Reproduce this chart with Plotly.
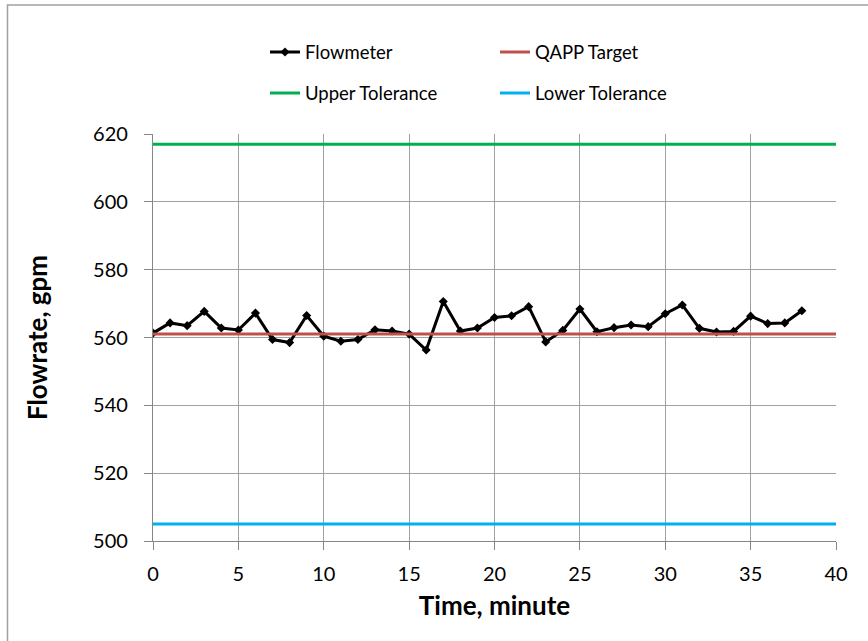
import plotly.graph_objects as go

time_min = list(range(0, 39))
flowmeter = [561.3, 564.3, 563.5, 567.7, 562.8, 562.2, 567.2, 559.4, 558.5, 566.5,
             560.4, 558.9, 559.4, 562.3, 561.9, 561.0, 556.3, 570.6, 561.9, 562.8,
             565.9, 566.4, 569.1, 558.7, 562.1, 568.4, 561.7, 562.9, 563.7, 563.2,
             567.0, 569.6, 562.7, 561.6, 561.8, 566.3, 564.1, 564.3, 567.9]
limit_x = [0, 40]
qapp_target = [561, 561]
upper_tol = [617, 617]
lower_tol = [505, 505]

x_ticks = [0, 5, 10, 15, 20, 25, 30, 35, 40]
y_ticks = [500, 520, 540, 560, 580, 600, 620]

FONT = "Lato, 'Open Sans', sans-serif"

fig = go.Figure()
fig.add_trace(go.Scatter(x=time_min, y=flowmeter, name="Flowmeter", mode="lines+markers",
                         line=dict(color="black", width=3),
                         marker=dict(symbol="diamond", size=7, color="black"),
                         legend="legend", legendgroup="a"))
fig.add_trace(go.Scatter(x=limit_x, y=qapp_target, name="QAPP Target", mode="lines",
                         line=dict(color="#c0504d", width=3),
                         legend="legend2", legendgroup="b"))
fig.add_trace(go.Scatter(x=limit_x, y=upper_tol, name="Upper Tolerance", mode="lines",
                         line=dict(color="#00b050", width=3),
                         legend="legend", legendgroup="c"))
fig.add_trace(go.Scatter(x=limit_x, y=lower_tol, name="Lower Tolerance", mode="lines",
                         line=dict(color="#00b0f0", width=3),
                         legend="legend2", legendgroup="d"))

L, R, T, B = 153, 32, 134, 100
W, H = 868, 641
pw, ph = W - L - R, H - T - B

def px_x(p):
    return (p - L) / pw

def px_y(p):
    return (H - B - p) / ph

leg_common = dict(orientation="v", tracegroupgap=14, font=dict(family=FONT, size=18.5, color="black"),
                  bgcolor="rgba(0,0,0,0)", xanchor="left", yanchor="middle", itemwidth=30)

fig.update_layout(
    width=W, height=H,
    margin=dict(l=L, r=R, t=T, b=B),
    paper_bgcolor="white", plot_bgcolor="white",
    font=dict(family=FONT, size=20, color="black"),
    showlegend=True,
    legend=dict(x=px_x(265), y=px_y(73), **leg_common),
    legend2=dict(x=px_x(495), y=px_y(73), **leg_common),
    xaxis=dict(range=[0, 40], tickvals=x_ticks, showgrid=True, gridcolor="#a0a0a0", gridwidth=1.3,
               showline=True, linecolor="#868686", linewidth=1.3, ticks="outside", ticklen=8,
               tickcolor="#868686", zeroline=False, tickfont=dict(size=20), ticklabelstandoff=7,
               title=dict(text="<b>Time, minute</b>", font=dict(size=26), standoff=12)),
    yaxis=dict(range=[500, 620], tickvals=y_ticks, showgrid=True, gridcolor="#a0a0a0", gridwidth=1.3,
               showline=True, linecolor="#868686", linewidth=1.3, ticks="outside", ticklen=8,
               tickcolor="#868686", zeroline=False, tickfont=dict(size=20), ticklabelstandoff=12,
               title=dict(text="<b>Flowrate, gpm</b>", font=dict(size=26), standoff=37)),
    shapes=[dict(type="rect", xref="paper", yref="paper",
                 x0=px_x(7.5), x1=px_x(880), y0=px_y(650), y1=px_y(5),
                 line=dict(color="#a0a0a0", width=1.5), fillcolor="rgba(0,0,0,0)", layer="below")],
)

fig.write_html("out.html", config={"displayModeBar": False},
               post_script="document.body.style.margin='0';")
